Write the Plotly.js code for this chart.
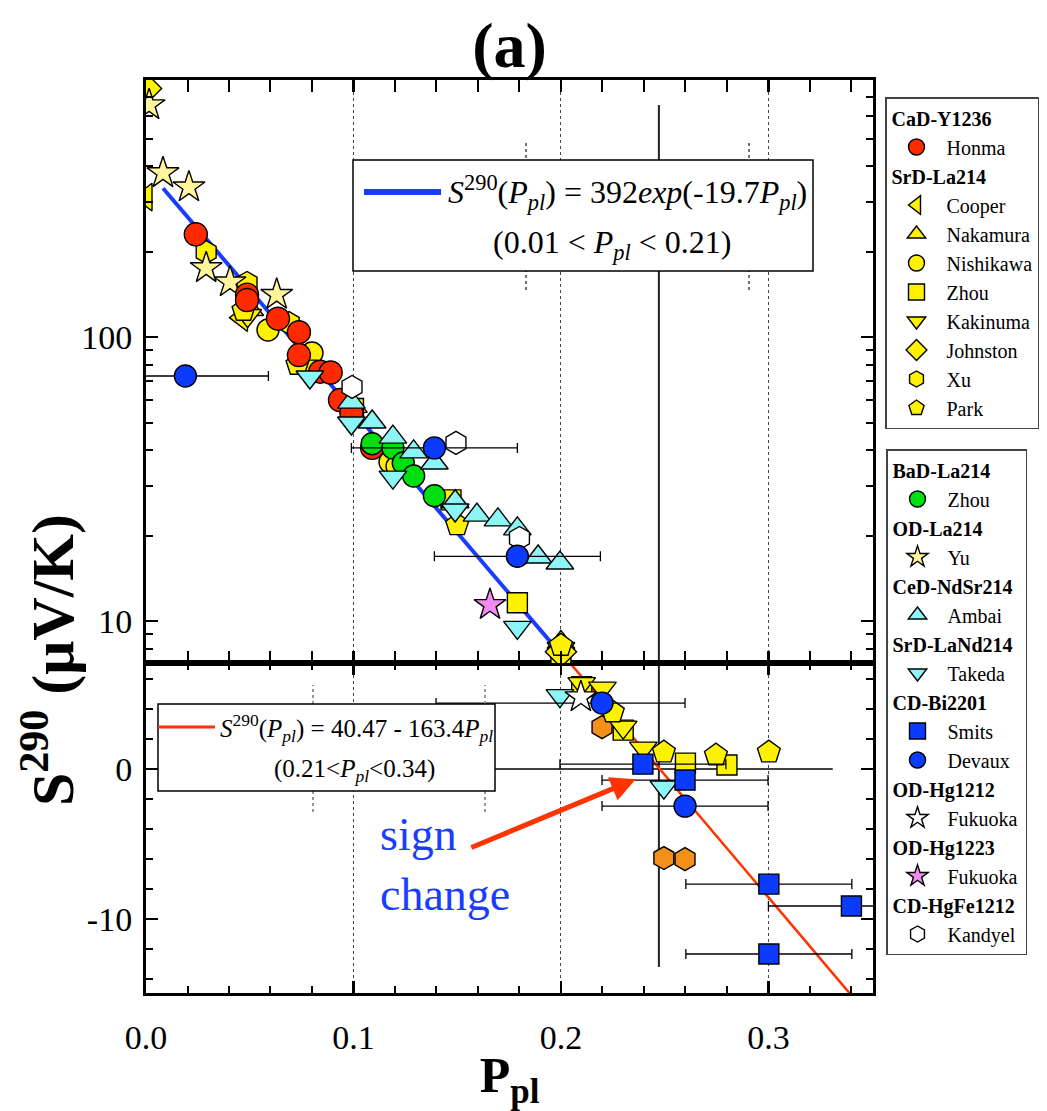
<!DOCTYPE html>
<html>
<head>
<meta charset="utf-8">
<script src="https://cdn.plot.ly/plotly-3.0.1.min.js"></script>
<style>html,body{margin:0;padding:0;background:#fff;}#chart{width:1047px;height:1111px;}</style>
</head>
<body>
<div id="chart"></div>
<script>
// ---------- data (P_pl, S290) ----------
// upper panel (log scale)
const cooperP = [0, 0.046];                 const cooperS = [311, 117];
const nakamuraP = [0.05, 0.1, 0.2];          const nakamuraS = [125, 57, 8.4];
const nishikawaP = [0.0588, 0.08, 0.1176, 0.121]; const nishikawaS = [105.8, 87.8, 36.3, 35];
const zhouYP = [0.1, 0.147, 0.179, 0.2];     const zhouYS = [56, 26.7, 11.6, 7.4];
const kakinumaP = [0.049, 0.076, 0.2];       const kakinumaS = [119, 79, 8.0];
const johnstonP = [0, 0.2];                  const johnstonS = [750, 7.8];
const xuP = [0.029, 0.0487, 0.069];          const xuS = [199, 155, 112];
const parkP = [0.047, 0.073, 0.15, 0.2];     const parkS = [124, 80, 21.8, 8.2];
const yuP = [0.0015, 0.0082, 0.0207, 0.029, 0.0405, 0.063];
const yuS = [656, 378, 337, 175, 156, 141];
const honmaP = [0.024, 0.0487, 0.0487, 0.0636, 0.0737, 0.0737, 0.084, 0.089, 0.0935, 0.099, 0.109];
const honmaS = [230, 141, 135, 116, 104, 86.4, 75.5, 75, 60, 54, 40.7];
const zhouGP = [0.109, 0.119, 0.124, 0.129, 0.139];
const zhouGS = [42.1, 40.7, 36, 32.4, 27.6];
const ambaiP = [0.099, 0.109, 0.119, 0.129, 0.139, 0.149, 0.1595, 0.1696, 0.179, 0.189, 0.1995];
const ambaiS = [59, 50.2, 44.4, 39.4, 36.0, 26.3, 23.6, 22.7, 21.1, 16.8, 16.0];
const takedaUP = [0.079, 0.099, 0.119, 0.149, 0.179];
const takedaUS = [72.3, 49.8, 32.1, 24.6, 9.5];
const kandyelP = [0.0993, 0.1494, 0.18];     const kandyelS = [66.7, 42.4, 19.6];
const devauxUP = [0.019, 0.139, 0.179];      const devauxUS = [72.9, 40.7, 16.9];
const devauxUErr = [0.04, 0.04, 0.04];
const fuk1223P = [0.1658];                   const fuk1223S = [11.4];
// lower panel (linear)
const parkLP = [0.225, 0.2496, 0.2747, 0.3002];  const parkLS = [3.8, 1.13, 0.93, 1.13];
const zhouYLP = [0.21, 0.23, 0.26, 0.28];        const zhouYLS = [5.5, 2.6, 0.4, 0.27];
const kakinumaLP = [0.21, 0.22, 0.23, 0.2397];   const kakinumaLS = [5.7, 5.4, 2.8, 1.4];
const takedaLP = [0.1995, 0.2496];               const takedaLS = [4.9, -1.2];
const smitsP = [0.2395, 0.2598, 0.3002, 0.34, 0.3002];
const smitsS = [0.33, -0.73, -7.67, -9.13, -12.33];
const smitsErr = [0.04, 0.04, 0.04, 0.04, 0.04];
const devauxLP = [0.2198, 0.2598];               const devauxLS = [4.4, -2.47];
const devauxLErrPlus = [0.04, 0.04];             const devauxLErrMinus = [0.08, 0.04];
const fuk1212P = [0.2096];                       const fuk1212S = [4.8];
const orangeP = [0.2198, 0.2496, 0.2598];        const orangeS = [2.8, -5.93, -6.0];
// fit lines
const fitExpP = [0.0082, 0.215];  const fitExpS = [334, 5.69];
const fitLinP = [0.2, 0.34];      const fitLinS = [7.79, -15.09];

// ---------- styling ----------
const FONT = '"Liberation Serif", serif';
const C = {red:'#ff2a00', yel:'#fff200', pale:'#fff59a', cyan:'#8cf5f5', green:'#00e010',
           blue:'#0b3bff', pink:'#f08cf0', white:'#ffffff', orange:'#f39019'};
const LW = 1.4;

function mk(x, y, sym, color, size, opts) {
  return Object.assign({
    type:'scatter', mode:'markers', x:x, y:y, cliponaxis:true,
    marker:{symbol:sym, color:color, size:size, line:{color:'#000', width:LW}},
    hoverinfo:'x+y'
  }, opts || {});
}
function grp(title, legend, rank, name, extra) {
  return Object.assign({
    name:name, legend:legend, legendrank:rank, legendgroup:title,
    legendgrouptitle:{text:title, font:{family:FONT, size:20, color:'#000', weight:'bold'}}
  }, extra || {});
}
const EB = {type:'data', color:'#000', thickness:1.3, width:5};

const U = {yaxis:'y2'};
const traces = [
  {type:'scatter', mode:'lines', x:fitExpP, y:fitExpS, yaxis:'y2', line:{color:'#1a3cff', width:4}, showlegend:false, hoverinfo:'skip'},
  {type:'scatter', mode:'lines', x:fitLinP, y:fitLinS, yaxis:'y', line:{color:'#ff3300', width:2.5}, showlegend:false, hoverinfo:'skip'},
  mk(cooperP, cooperS, 'triangle-left', C.yel, 24, Object.assign(grp('SrD-La214','legend',2,'Cooper'), U)),
  mk(nakamuraP, nakamuraS, 'triangle-up', C.yel, 24, Object.assign(grp('SrD-La214','legend',3,'Nakamura'), U)),
  mk(nishikawaP, nishikawaS, 'circle', C.yel, 22, Object.assign(grp('SrD-La214','legend',4,'Nishikawa'), U)),
  mk(zhouYP, zhouYS, 'square', C.yel, 20, Object.assign(grp('SrD-La214','legend',5,'Zhou'), U)),
  mk(kakinumaP, kakinumaS, 'triangle-down', C.yel, 24, Object.assign(grp('SrD-La214','legend',6,'Kakinuma'), U)),
  mk(johnstonP, johnstonS, 'diamond', C.yel, 24, Object.assign(grp('SrD-La214','legend',7,'Johnston'), U)),
  mk(xuP, xuS, 'hexagon', C.yel, 23, Object.assign(grp('SrD-La214','legend',8,'Xu'), U)),
  mk(parkP, parkS, 'pentagon', C.yel, 24, Object.assign(grp('SrD-La214','legend',9,'Park'), U)),
  mk(yuP, yuS, 'star', C.pale, 24, Object.assign(grp('OD-La214','legend2',11,'Yu'), U)),
  mk(honmaP, honmaS, 'circle', C.red, 23, Object.assign(grp('CaD-Y1236','legend',1,'Honma'), U)),
  mk(zhouGP, zhouGS, 'circle', C.green, 22, Object.assign(grp('BaD-La214','legend2',10,'Zhou'), U)),
  mk(ambaiP, ambaiS, 'triangle-up', C.cyan, 24, Object.assign(grp('CeD-NdSr214','legend2',12,'Ambai'), U)),
  mk(takedaUP, takedaUS, 'triangle-down', C.cyan, 24, Object.assign(grp('SrD-LaNd214','legend2',13,'Takeda'), U)),
  mk(kandyelP, kandyelS, 'hexagon', C.white, 23, Object.assign(grp('CD-HgFe1212','legend2',18,'Kandyel'), U)),
  mk(devauxUP, devauxUS, 'circle', C.blue, 22, Object.assign(grp('CD-Bi2201','legend2',15,'Devaux'), U,
     {error_x:Object.assign({array:devauxUErr, symmetric:true}, EB)})),
  mk(fuk1223P, fuk1223S, 'star', C.pink, 24, Object.assign(grp('OD-Hg1223','legend2',17,'Fukuoka'), U)),
  mk(orangeP, orangeS, 'hexagon', C.orange, 23, {yaxis:'y', showlegend:false, name:'', legend:'legend2'}),
  mk(zhouYLP, zhouYLS, 'square', C.yel, 20, Object.assign(grp('SrD-La214','legend',5,'Zhou'), {yaxis:'y', showlegend:false})),
  mk(kakinumaLP, kakinumaLS, 'triangle-down', C.yel, 24, Object.assign(grp('SrD-La214','legend',6,'Kakinuma'), {yaxis:'y', showlegend:false})),
  mk(parkLP, parkLS, 'pentagon', C.yel, 24, Object.assign(grp('SrD-La214','legend',9,'Park'), {yaxis:'y', showlegend:false})),
  mk(takedaLP, takedaLS, 'triangle-down', C.cyan, 24, Object.assign(grp('SrD-LaNd214','legend2',13,'Takeda'), {yaxis:'y', showlegend:false})),
  mk(smitsP, smitsS, 'square', C.blue, 20, Object.assign(grp('CD-Bi2201','legend2',14,'Smits'), {yaxis:'y',
     error_x:Object.assign({array:smitsErr, symmetric:true}, EB)})),
  mk(devauxLP, devauxLS, 'circle', C.blue, 22, Object.assign(grp('CD-Bi2201','legend2',15,'Devaux'), {yaxis:'y', showlegend:false,
     error_x:Object.assign({array:devauxLErrPlus, arrayminus:devauxLErrMinus, symmetric:false}, EB)})),
  mk(fuk1212P, fuk1212S, 'star', C.white, 24, Object.assign(grp('OD-Hg1212','legend2',16,'Fukuoka'), {yaxis:'y'}))
];

const px = v => (v - 146) / 727;
const py = v => (993 - v) / 913;

const axFont = {family:FONT, size:34, color:'#000'};
const common = {
  ticks:'inside', ticklen:12, tickwidth:2.5, tickcolor:'#000',
  showline:true, linewidth:3, linecolor:'#000', zeroline:false,
  tickfont:axFont
};
const legFont = {family:FONT, size:20, color:'#000'};

const layout = {
  width:1047, height:1111,
  margin:{l:146, r:174, t:80, b:118, autoexpand:false},
  paper_bgcolor:'#ffffff', plot_bgcolor:'rgba(0,0,0,0)',
  font:{family:FONT, color:'#000'},
  title:{text:'<b>(a)</b>', font:{family:FONT, size:64, color:'#000'}, x:0.5, xref:'paper', xanchor:'center',
         y:1 - 45/1111, yref:'container', yanchor:'middle'},
  xaxis:Object.assign({}, common, {
    range:[0, 0.3504], domain:[0,1], anchor:'y', mirror:'allticks',
    tickmode:'array', tickvals:[0, 0.1, 0.2, 0.3], ticktext:['0.0','0.1','0.2','0.3'],
    showgrid:true, gridcolor:'#444', griddash:'dot', gridwidth:1,
    minor:{tickmode:'linear', tick0:0, dtick:0.02, ticks:'inside', ticklen:7, tickwidth:2, tickcolor:'#000', showgrid:false},
    ticklabelstandoff:12,
    title:{text:'<b>P<sub>pl</sub></b>', font:{family:FONT, size:50, color:'#000'}, standoff:16}
  }),
  yaxis:Object.assign({}, common, {
    domain:[0, 0.3614], range:[-14.93, 7.07], anchor:'x', mirror:'allticks',
    tickmode:'array', tickvals:[-10, 0], ticktext:['-10','0'], showgrid:false,
    minor:{tickmode:'linear', tick0:0, dtick:2, ticks:'inside', ticklen:7, tickwidth:2, tickcolor:'#000', showgrid:false},
    ticklabelstandoff:4
  }),
  yaxis2:Object.assign({}, common, {
    type:'log', domain:[0.3614, 1], range:[0.852, 2.905], anchor:'x', mirror:'allticks',
    tickmode:'array', tickvals:[10, 100], ticktext:['10','100'], showgrid:false,
    minor:{tickmode:'array', tickvals:[8,9,20,30,40,50,60,70,80,90,200,300,400,500,600,700,800],
           ticks:'inside', ticklen:7, tickwidth:2, tickcolor:'#000', showgrid:false},
    ticklabelstandoff:4
  }),
  showlegend:true,
  legend:{x:px(885), xanchor:'left', y:py(97), yanchor:'top', xref:'paper', yref:'paper',
          bgcolor:'#fff', bordercolor:'#444', borderwidth:1.5, traceorder:'grouped', tracegroupgap:0,
          itemwidth:50, font:legFont, itemclick:false},
  legend2:{x:px(886), xanchor:'left', y:py(449), yanchor:'top', xref:'paper', yref:'paper',
          bgcolor:'#fff', bordercolor:'#444', borderwidth:1.5, traceorder:'grouped', tracegroupgap:0,
          itemwidth:50, font:legFont, itemclick:false},
  shapes:[
    {type:'line', xref:'x', yref:'paper', x0:0.2472, x1:0.2472, y0:py(967), y1:py(105), line:{color:'#222', width:2}, layer:'below'},
    {type:'line', xref:'x', yref:'y', x0:0.1, x1:0.331, y0:0, y1:0, line:{color:'#000', width:1.5}, layer:'below'},
    {type:'line', xref:'paper', yref:'paper', x0:px(313), x1:px(313), y0:py(812), y1:py(685), line:{color:'#999', width:2, dash:'dot'}, layer:'above'},
    {type:'line', xref:'paper', yref:'paper', x0:px(485), x1:px(485), y0:py(812), y1:py(685), line:{color:'#999', width:2, dash:'dot'}, layer:'above'},
    {type:'line', xref:'paper', yref:'paper', x0:px(526), x1:px(526), y0:py(290), y1:py(140), line:{color:'#444', width:1.5, dash:'dot'}, layer:'above'},
    {type:'line', xref:'paper', yref:'paper', x0:px(749), x1:px(749), y0:py(290), y1:py(140), line:{color:'#444', width:1.5, dash:'dot'}, layer:'above'},
    {type:'rect', xref:'paper', yref:'paper', x0:px(353), x1:px(813), y0:py(271), y1:py(160), fillcolor:'#fff', line:{color:'#000', width:1.5}, layer:'above'},
    {type:'line', xref:'paper', yref:'paper', x0:px(364), x1:px(441), y0:py(192), y1:py(192), line:{color:'#1a3cff', width:6}, layer:'above'},
    {type:'rect', xref:'paper', yref:'paper', x0:px(158), x1:px(495), y0:py(791), y1:py(704), fillcolor:'#fff', line:{color:'#000', width:1.5}, layer:'above'},
    {type:'line', xref:'paper', yref:'paper', x0:px(158), x1:px(215), y0:py(727), y1:py(727), line:{color:'#ff3300', width:3}, layer:'above'}
  ],
  annotations:[
    {xref:'paper', yref:'paper', x:px(627), y:py(192), xanchor:'center', yanchor:'middle', showarrow:false,
     text:'<i>S</i><sup>290</sup>(<i>P</i><sub><i>pl</i></sub>) = 392<i>exp</i>(-19.7<i>P</i><sub><i>pl</i></sub>)',
     font:{family:FONT, size:32, color:'#000'}},
    {xref:'paper', yref:'paper', x:px(612), y:py(244), xanchor:'center', yanchor:'middle', showarrow:false,
     text:'(0.01 &lt; <i>P</i><sub><i>pl</i></sub> &lt; 0.21)',
     font:{family:FONT, size:32, color:'#000'}},
    {xref:'paper', yref:'paper', x:px(356), y:py(728), xanchor:'center', yanchor:'middle', showarrow:false,
     text:'<i>S</i><sup>290</sup>(<i>P</i><sub><i>pl</i></sub>) = 40.47 - 163.4<i>P</i><sub><i>pl</i></sub>',
     font:{family:FONT, size:25, color:'#000'}},
    {xref:'paper', yref:'paper', x:px(354), y:py(770), xanchor:'center', yanchor:'middle', showarrow:false,
     text:'(0.21&lt;<i>P</i><sub><i>pl</i></sub>&lt;0.34)',
     font:{family:FONT, size:25, color:'#000'}},
    {xref:'paper', yref:'paper', x:px(378), y:py(864), xanchor:'left', yanchor:'middle', align:'left', showarrow:false,
     text:'sign<br>change', font:{family:FONT, size:46, color:'#1a3cff'}},
    {xref:'x', yref:'y', x:0.2361, y:-0.67, text:'', showarrow:true, ax:-166, ay:69,
     arrowcolor:'#ff3300', arrowwidth:5, arrowhead:2, arrowsize:1, standoff:0},
    {xref:'paper', yref:'paper', x:px(48), y:py(660), xanchor:'center', yanchor:'middle', textangle:-90, showarrow:false,
     text:'<b>S<sup>290</sup> (μV/K)</b>', font:{family:FONT, size:60, color:'#000'}}
  ]
};

Plotly.newPlot('chart', traces, layout, {displayModeBar:false, staticPlot:true});
</script>
</body>
</html>
